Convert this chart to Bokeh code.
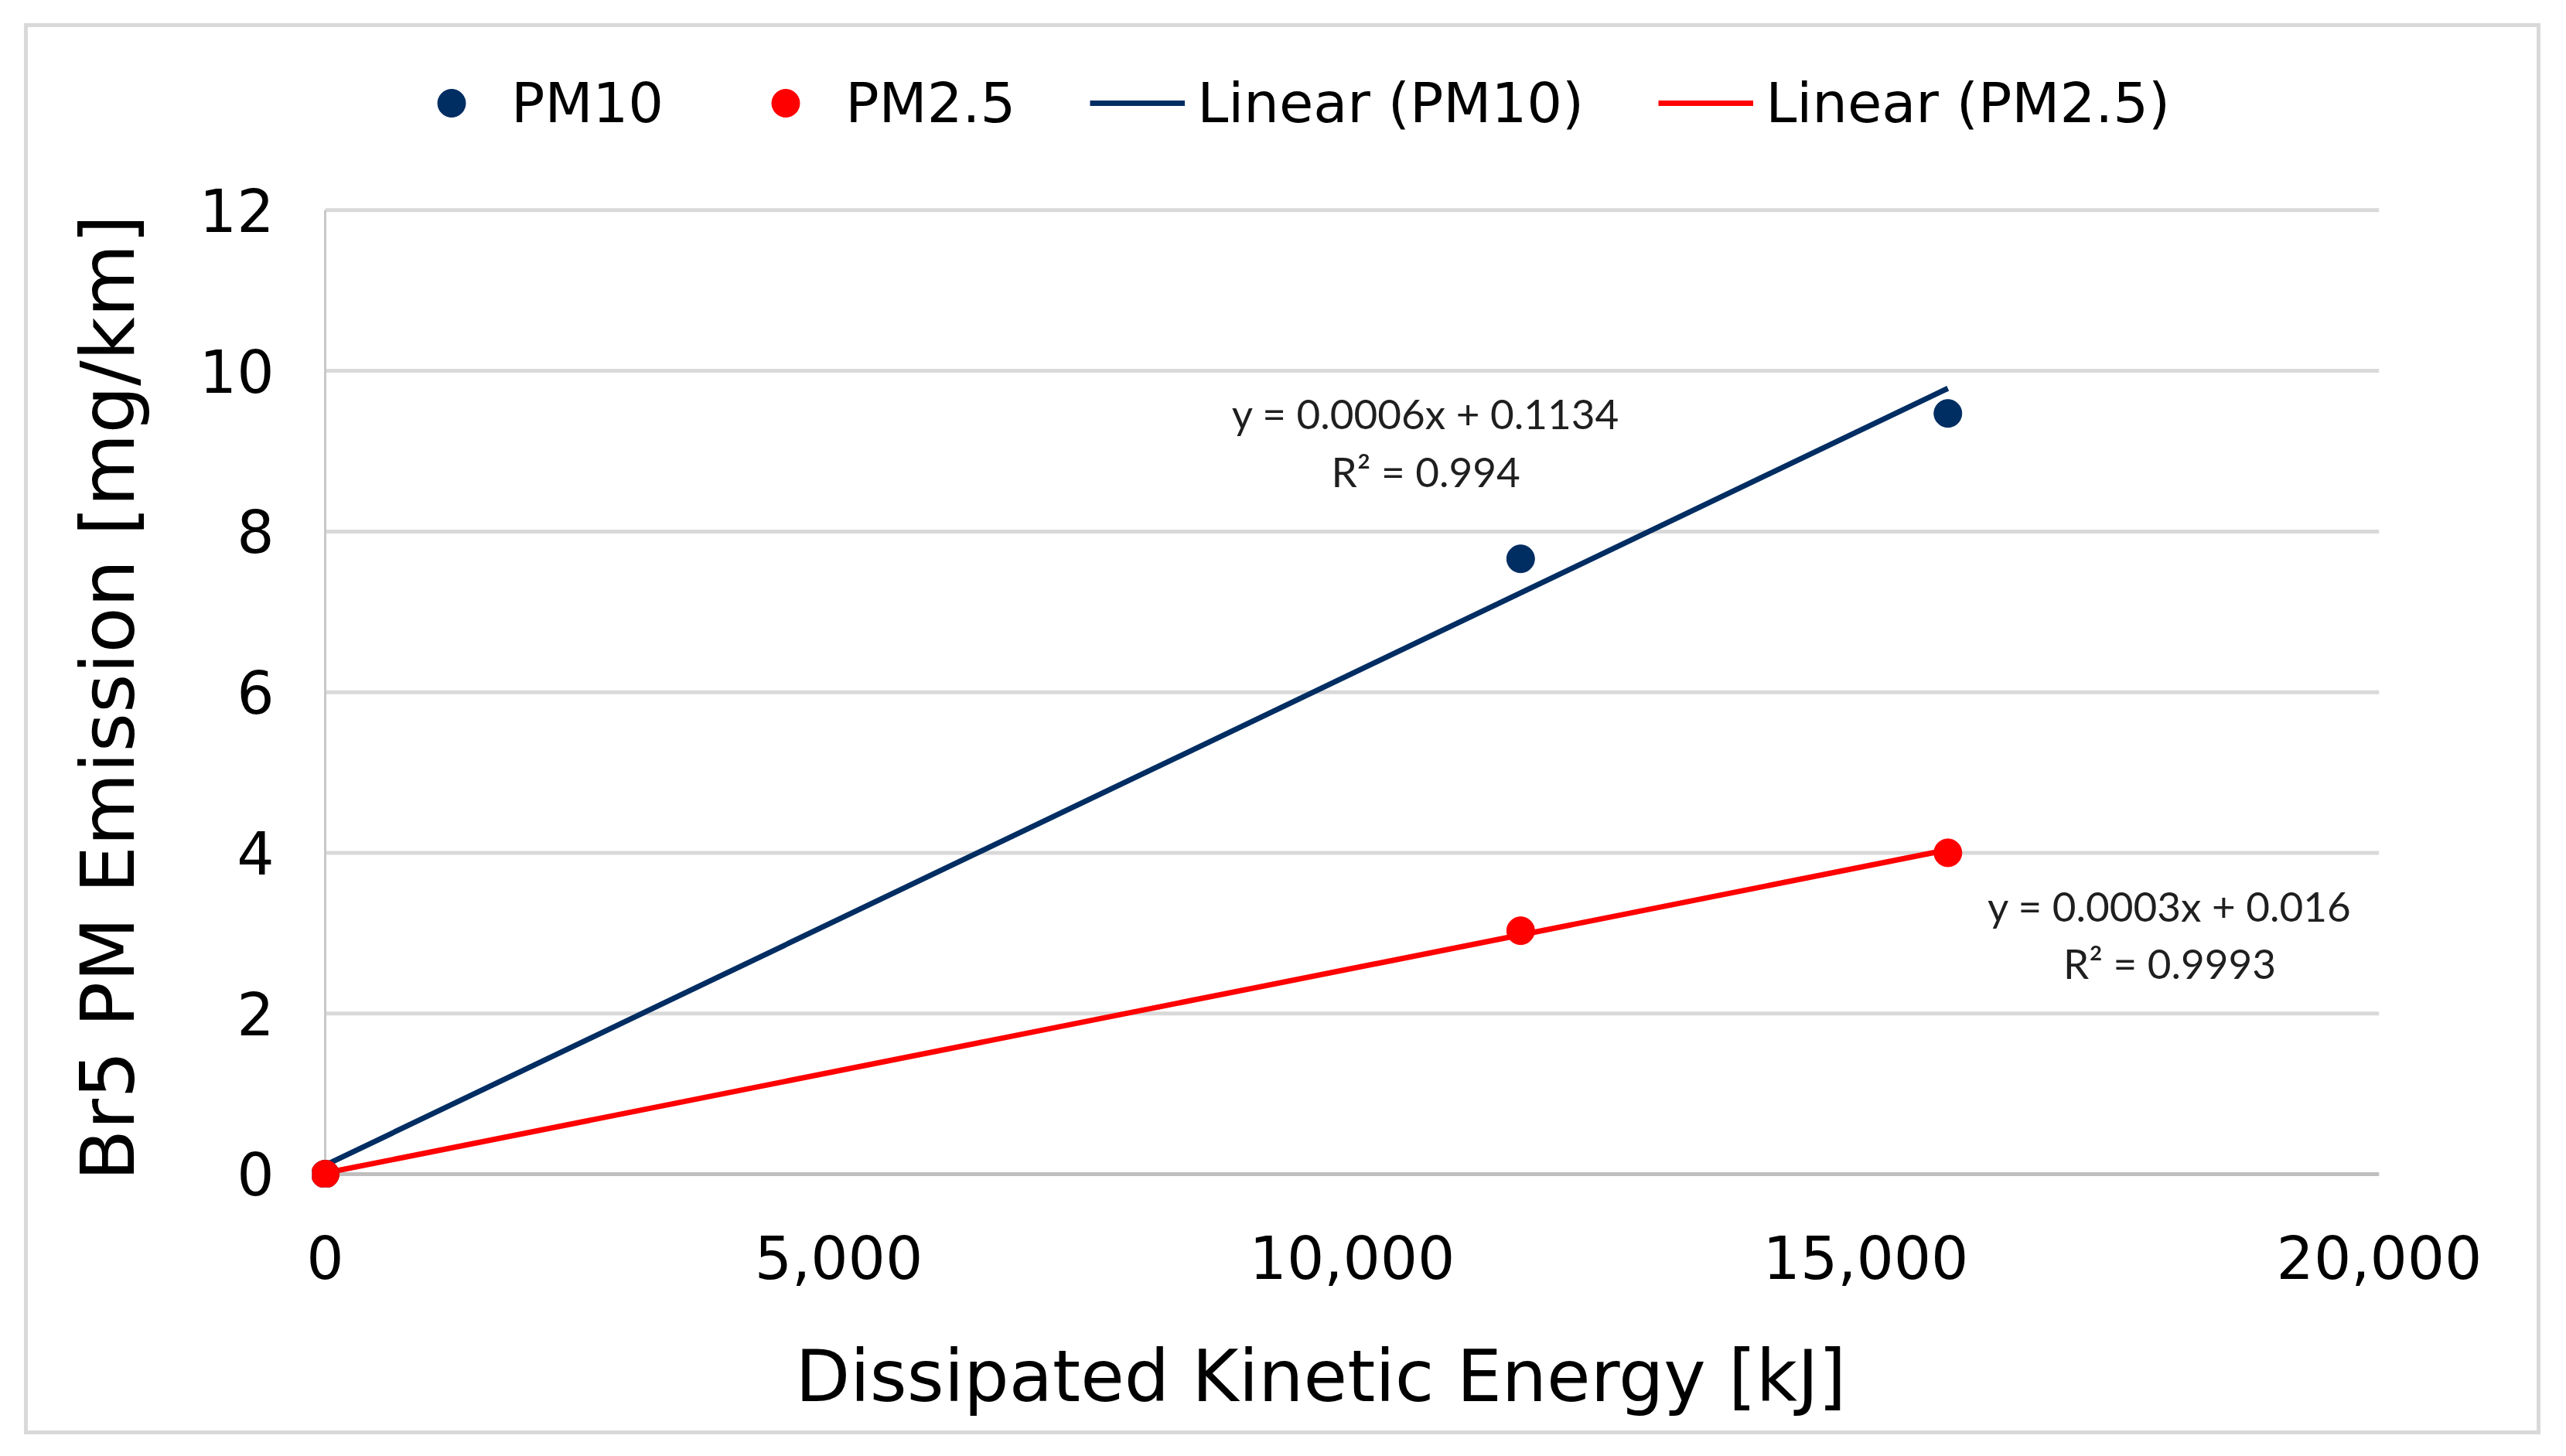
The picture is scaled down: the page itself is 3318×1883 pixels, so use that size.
import numpy as np
from bokeh.plotting import figure
from bokeh.models import Range1d, FixedTicker, NumeralTickFormatter, Legend, LegendItem, Label
from bokeh.embed import file_html
from bokeh.resources import INLINE

# values
energy_pm10 = [0, 11640, 15800]
emission_pm10 = [0.0, 7.66, 9.47]
energy_pm25 = [0, 11640, 15800]
emission_pm25 = [0.0, 3.03, 4.0]

x_ticks = [0, 5000, 10000, 15000, 20000]
y_ticks = [0, 2, 4, 6, 8, 10, 12]

eq_pm10 = ["y = 0.0006x + 0.1134", "R² = 0.994"]
eq_pm25 = ["y = 0.0003x + 0.016", "R² = 0.9993"]

navy = "#002D62"
red = "#FF0000"
main_font = "DejaVu Sans"
eq_font = "Lato"

# the frame reaches up to the legend row (legend is drawn inside it);
# small padding at the origin so the markers there are not clipped
pad_x, pad_y, top_y = 128, 0.164, 13.89
x_min, x_max = x_ticks[0], x_ticks[-1]
y_min, y_max = y_ticks[0], y_ticks[-1]

# em spaces nudge the centred axis titles to where the reference has them
p = figure(width=3254, height=1825,
           x_range=Range1d(x_min - pad_x, x_max), y_range=Range1d(y_min - pad_y, top_y),
           x_axis_label="Dissipated Kinetic Energy [kJ]\u2002\u2009",
           y_axis_label="Br5 PM Emission [mg/km]\u2003\u2003",
           output_backend="svg", toolbar_location=None,
           min_border_left=367, min_border_right=214,
           min_border_top=40, min_border_bottom=325)
p.margin = (30, 0, 0, 31)
p.styles = {"border": "5px solid #D9D9D9"}
p.outline_line_color = None
p.background_fill_color = "white"

# gridlines and axis lines start at the origin, not at the padded frame edge
p.xgrid.visible = False
p.ygrid.visible = False
n = len(y_ticks) - 1
p.segment(x0=[x_min] * n, x1=[x_max] * n, y0=y_ticks[1:], y1=y_ticks[1:],
          line_color="#D9D9D9", line_width=5)
p.segment(x0=[x_min], x1=[x_min], y0=[y_min], y1=[y_max], line_color="#C8C8C8", line_width=3)
p.segment(x0=[x_min], x1=[x_max], y0=[y_min], y1=[y_min], line_color="#BFBFBF", line_width=5)

for ax in (p.xaxis[0], p.yaxis[0]):
    ax.axis_line_color = None
    ax.major_tick_line_color = None
    ax.minor_tick_line_color = None
    ax.major_label_text_font = main_font
    ax.major_label_text_font_size = "76px"
    ax.major_label_text_color = "black"
    ax.axis_label_text_font = main_font
    ax.axis_label_text_font_style = "normal"
    ax.axis_label_text_color = "black"

p.xaxis.ticker = FixedTicker(ticks=x_ticks)
p.xaxis.formatter = NumeralTickFormatter(format="0,0")
p.xaxis.major_label_standoff = 56
p.xaxis.axis_label_standoff = 70
p.xaxis.axis_label_text_font_size = "92px"

p.yaxis.ticker = FixedTicker(ticks=y_ticks)
p.yaxis.major_label_standoff = 43
p.yaxis.axis_label_standoff = 59
p.yaxis.axis_label_text_font_size = "97px"

# linear trend lines over the data range
k10, b10 = np.polyfit(energy_pm10, emission_pm10, 1)
k25, b25 = np.polyfit(energy_pm25, emission_pm25, 1)
fit_x10 = [min(energy_pm10), max(energy_pm10)]
fit_x25 = [min(energy_pm25), max(energy_pm25)]
l10 = p.line(fit_x10, [k10 * v + b10 for v in fit_x10], line_color=navy, line_width=7)
l25 = p.line(fit_x25, [k25 * v + b25 for v in fit_x25], line_color=red, line_width=7)

s10 = p.scatter(energy_pm10, emission_pm10, size=36, color=navy)
s25 = p.scatter(energy_pm25, emission_pm25, size=36, color=red)

legend = Legend(items=[LegendItem(label="PM10", renderers=[s10]),
                       LegendItem(label="PM2.5", renderers=[s25]),
                       LegendItem(label="Linear (PM10)", renderers=[l10]),
                       LegendItem(label="Linear (PM2.5)", renderers=[l25])],
                orientation="horizontal", location=(119, 1357),
                label_text_font=main_font, label_text_font_size="72px",
                label_text_color="black",
                glyph_width=123, glyph_height=90, spacing=96, label_standoff=16,
                padding=0, margin=0, border_line_color=None, background_fill_alpha=0)
p.add_layout(legend)

for txt, yy in zip(eq_pm10, [9.47, 8.75]):
    p.add_layout(Label(x=10716, y=yy, text=txt, text_align="center", text_baseline="middle",
                       text_font=eq_font, text_font_size="53px", text_color="#1F1F1F"))
for txt, yy in zip(eq_pm25, [3.34, 2.63]):
    p.add_layout(Label(x=17959, y=yy, text=txt, text_align="center", text_baseline="middle",
                       text_font=eq_font, text_font_size="53px", text_color="#1F1F1F"))

open("out.html", "w").write(file_html(p, INLINE))
